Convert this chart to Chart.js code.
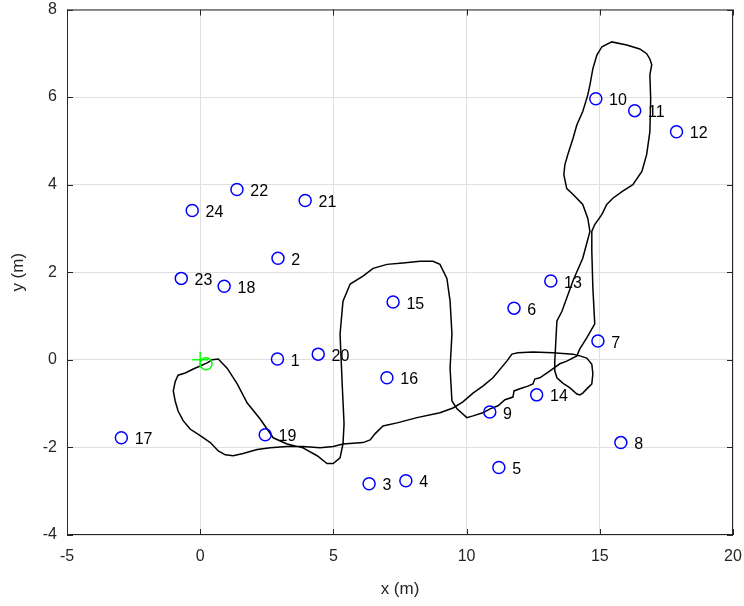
<!DOCTYPE html>
<html>
<head>
<meta charset="utf-8">
<script src="https://cdn.jsdelivr.net/npm/chart.js@4"></script>
<style>
  body { margin: 0; background: #fff; }
  #wrap { width: 744px; height: 606px; }
</style>
</head>
<body>
<div id="wrap"><canvas id="trajChart" width="744" height="606"></canvas></div>
<script>
// landmark positions (m) and their ids
const landmarkIds = [1, 2, 3, 4, 5, 6, 7, 8, 9, 10, 11, 12, 13, 14, 15, 16, 17, 18, 19, 20, 21, 22, 23, 24];
const landmarkX = [2.9, 2.92, 6.34, 7.72, 11.21, 11.78, 14.93, 15.79, 10.87, 14.85, 16.31, 17.88,
                   13.16, 12.63, 7.24, 7.01, -2.96, 0.9, 2.44, 4.43, 3.94, 1.38, -0.71, -0.3];
const landmarkY = [0.02, 2.32, -2.83, -2.76, -2.46, 1.18, 0.43, -1.89, -1.19, 5.96, 5.69, 5.21,
                   1.8, -0.8, 1.32, -0.41, -1.78, 1.68, -1.71, 0.13, 3.64, 3.89, 1.86, 3.41];

// estimated robot path (m)
const pathX = [0.26, 0.0, -0.26, -0.56, -0.83, -0.94, -1.01, -0.94, -0.83, -0.64, -0.38, 0.0, 0.38, 0.68,
  0.94, 1.24, 1.61, 2.14, 2.63, 3.26, 3.86, 4.5, 4.99, 5.36, 6.11, 6.38, 6.56, 6.86, 7.39, 8.14, 9.0,
  9.49, 9.86, 10.24, 10.61, 10.99, 11.51, 11.7, 11.93, 12.49, 13.24, 13.99, 14.25,
  14.51, 14.7, 14.74, 14.7, 14.55, 14.36, 14.25, 14.14, 13.88, 13.61, 13.39, 13.31, 13.31, 13.35, 13.39,
  13.58, 13.99, 14.36, 14.63, 14.55, 14.36, 13.99, 13.76, 13.65, 13.69, 13.8, 13.99, 14.14, 14.36, 14.55,
  14.63, 14.74, 14.89, 15.08, 15.45, 16.01, 16.5, 16.76, 16.88, 16.95, 16.88, 16.91, 16.88, 16.76, 16.58,
  16.24, 15.86, 15.49, 15.26, 15.08, 14.81, 14.7, 14.7, 14.74, 14.81, 14.51, 14.25, 14.14,
  13.76, 13.5, 13.13, 12.75, 12.56, 12.49, 12.3, 12.0, 11.78, 11.74, 11.44, 11.18, 10.88, 10.61, 10.24, 10.01,
  9.64, 9.45, 9.38, 9.45, 9.38, 9.26, 9.0, 8.74, 8.25, 7.61, 7.01, 6.49, 6.11, 5.63, 5.36, 5.25, 5.33,
  5.4, 5.36, 5.25, 4.99, 4.76, 4.39, 3.86, 3.26, 2.74, 2.25, 1.76, 1.39, 1.01, 0.68, 0.45, 0.26];
const pathY = [-0.07, -0.14, -0.21, -0.3, -0.35, -0.5, -0.71, -0.94, -1.17, -1.39, -1.58, -1.73, -1.89, -2.08,
  -2.17, -2.19, -2.14, -2.05, -2.01, -1.98, -1.98, -2.01, -1.98, -1.92, -1.89, -1.83, -1.69, -1.51, -1.44, -1.32, -1.21,
  -1.1, -0.96, -0.76, -0.6, -0.41, -0.03, 0.13, 0.16, 0.18, 0.16, 0.13, 0.09,
  0.04, -0.1, -0.32, -0.55, -0.64, -0.76, -0.8, -0.78, -0.64, -0.53, -0.41, -0.25, -0.03, 0.43, 0.89,
  1.11, 1.8, 2.32, 2.93, 3.23, 3.55, 3.78, 3.91, 4.23, 4.46, 4.69, 5.05, 5.37, 5.67, 6.05,
  6.28, 6.65, 6.96, 7.15, 7.26, 7.19, 7.1, 6.99, 6.87, 6.74, 6.51, 5.96, 5.21, 4.69, 4.3,
  4.0, 3.85, 3.69, 3.55, 3.32, 3.09, 2.93, 2.48, 1.64, 0.82, 0.5, 0.25, 0.09,
  -0.03, -0.09, -0.25, -0.41, -0.44, -0.55, -0.6, -0.66, -0.71, -0.85, -0.91, -1.05, -1.12, -1.21, -1.28, -1.32,
  -1.12, -0.94, -0.19, 0.59, 1.34, 1.86, 2.18, 2.25, 2.25, 2.21, 2.18, 2.09, 1.91, 1.73, 1.34, 0.59, -0.55,
  -1.46, -1.92, -2.24, -2.37, -2.37, -2.19, -2.01, -1.92, -1.78, -1.35, -0.98, -0.55, -0.19, 0.02, 0.0, -0.07];

const startPoint = { x: 0, y: 0 };
const endPoint = { x: 0.22, y: -0.09 };

const xTicks = [-5, 0, 5, 10, 15, 20];
const yTicks = [-4, -2, 0, 2, 4, 6, 8];

const axisColor = '#262626';
const fontFamily = '"Liberation Sans", Arial, Helvetica, sans-serif';

const pathData = pathX.map((x, i) => ({ x: x, y: pathY[i] }));
const landmarkData = landmarkX.map((x, i) => ({ x: x, y: landmarkY[i] }));

// box with inward ticks, like the original figure
const boxPlugin = {
    id: 'box',
    afterDraw(chart) {
        const { ctx, chartArea: a, scales } = chart;
        ctx.save();
        ctx.strokeStyle = axisColor;
        ctx.lineWidth = 1;
        ctx.strokeRect(a.left + 0.5, a.top + 0.5, a.right - a.left - 1, a.bottom - a.top - 1);
        ctx.beginPath();
        xTicks.forEach(v => {
            const px = Math.round(scales.x.getPixelForValue(v)) + 0.5;
            ctx.moveTo(px, a.bottom); ctx.lineTo(px, a.bottom - 6);
            ctx.moveTo(px, a.top); ctx.lineTo(px, a.top + 6);
        });
        yTicks.forEach(v => {
            const py = Math.round(scales.y.getPixelForValue(v)) + 0.5;
            ctx.moveTo(a.left, py); ctx.lineTo(a.left + 6, py);
            ctx.moveTo(a.right, py); ctx.lineTo(a.right - 6, py);
        });
        ctx.stroke();
        ctx.restore();
    }
};

// landmark numbers next to the circles
const labelPlugin = {
    id: 'landmarkLabels',
    afterDatasetsDraw(chart) {
        const { ctx, scales } = chart;
        ctx.save();
        ctx.fillStyle = '#000';
        ctx.font = '16px ' + fontFamily;
        ctx.textAlign = 'left';
        ctx.textBaseline = 'middle';
        landmarkIds.forEach((id, i) => {
            const px = scales.x.getPixelForValue(landmarkX[i] + 0.5);
            const py = scales.y.getPixelForValue(landmarkY[i] - 0.05);
            ctx.fillText(String(id), px, py);
        });
        ctx.restore();
    }
};

const ctx = document.getElementById('trajChart').getContext('2d');
const trajChart = new Chart(ctx, {
    type: 'scatter',
    data: {
        datasets: [
            {
                label: 'landmarks',
                data: landmarkData,
                pointStyle: 'circle',
                pointRadius: 6,
                pointBorderWidth: 1.5,
                borderColor: '#0000ff',
                backgroundColor: 'rgba(0,0,0,0)',
                order: 1
            },
            {
                label: 'start',
                data: [startPoint],
                pointStyle: 'cross',
                pointRadius: 8,
                pointBorderWidth: 1.5,
                borderColor: '#00ff00',
                backgroundColor: '#00ff00',
                order: 0
            },
            {
                label: 'end',
                data: [endPoint],
                pointStyle: 'circle',
                pointRadius: 6,
                pointBorderWidth: 1.5,
                borderColor: '#00ff00',
                backgroundColor: 'rgba(0,0,0,0)',
                order: 0
            },
            {
                label: 'path',
                type: 'line',
                data: pathData,
                showLine: true,
                pointRadius: 0,
                borderColor: '#000',
                borderWidth: 1.5,
                tension: 0,
                fill: false,
                order: 2
            }
        ]
    },
    options: {
        responsive: false,
        animation: false,
        events: [],
        layout: { padding: { top: 8, right: 11, left: 0, bottom: 0 } },
        plugins: {
            legend: { display: false },
            tooltip: { enabled: false }
        },
        scales: {
            x: {
                type: 'linear',
                min: -5,
                max: 20,
                afterBuildTicks: s => { s.ticks = xTicks.map(v => ({ value: v })); },
                afterFit: s => { s.height = 71; s.paddingLeft = 0; s.paddingRight = 0; },
                grid: { color: '#dfdfdf', drawTicks: false },
                border: { display: false },
                ticks: { color: axisColor, font: { family: fontFamily, size: 16 }, padding: 12, maxRotation: 0 },
                title: { display: true, text: 'x (m)', color: axisColor, font: { family: fontFamily, size: 17 }, padding: { top: 0, bottom: 6 } }
            },
            y: {
                type: 'linear',
                min: -4,
                max: 8,
                afterBuildTicks: s => { s.ticks = yTicks.map(v => ({ value: v })); },
                afterFit: s => { s.width = 67; s.paddingTop = 0; s.paddingBottom = 0; },
                grid: { color: '#dfdfdf', drawTicks: false },
                border: { display: false },
                ticks: { color: axisColor, font: { family: fontFamily, size: 16 }, padding: 10 },
                title: { display: true, text: 'y (m)', color: axisColor, font: { family: fontFamily, size: 17 }, padding: { top: 8, bottom: 0 } }
            }
        }
    },
    plugins: [boxPlugin, labelPlugin]
});
</script>
</body>
</html>
